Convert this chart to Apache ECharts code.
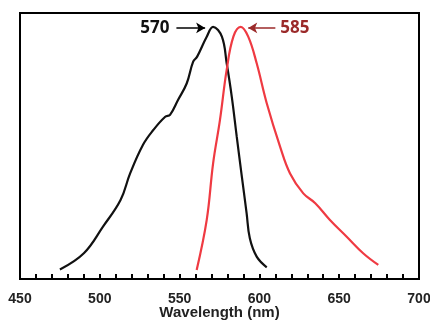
<!DOCTYPE html>
<html>
<head>
<meta charset="utf-8">
<script src="https://cdn.jsdelivr.net/npm/echarts@6/dist/echarts.min.js"></script>
<style>
  html, body { margin: 0; padding: 0; background: #fff; }
  #chart { width: 430px; height: 322px; }
</style>
</head>
<body>
<div id="chart"></div>
<script>
// excitation spectrum (black), [wavelength nm, relative intensity]
const excitation = [
  [475, 3.6], [490, 9.7], [502, 19.7], [513, 29.7], [519, 39.7], [527, 50.4],
  [533.5, 56.0], [541, 61.0], [544, 61.7], [549, 67.3], [554.5, 73.6], [558.5, 81.7],
  [561, 83.6], [567, 91.1], [571, 94.8], [576.5, 91.1], [579.5, 81.1], [582.7, 68.5],
  [585.8, 53.5], [589, 38.5], [592, 24.7], [594, 15.3], [598.3, 8.4], [604.6, 4.4]
];
// emission spectrum (red)
const emission = [
  [560.7, 3.4], [567, 22.2], [571, 43.5], [575.3, 59.8], [579.5, 78.6], [583.7, 91.1],
  [588.3, 94.8], [593, 91.1], [598.3, 81.1], [604.6, 66.1], [613, 49.7], [619.2, 39.7],
  [627.5, 32.2], [635, 28.5], [644.2, 22.2], [654.7, 15.9], [665, 9.7], [674.5, 5.3]
];
const xTicks = [450, 500, 550, 600, 650, 700];
const peakLabels = ['570', '585'];

const chart = echarts.init(document.getElementById('chart'));

chart.setOption({
  animation: false,
  grid: {
    left: 20, right: 11, top: 13, bottom: 43,
    outerBoundsMode: 'none',
    containLabel: false,
    show: true, borderColor: '#000', borderWidth: 2
  },
  xAxis: {
    type: 'value',
    min: xTicks[0],
    max: xTicks[xTicks.length - 1],
    interval: 10,
    name: 'Wavelength (nm)',
    nameLocation: 'middle',
    nameGap: 26,
    nameMoveOverlap: false,
    nameTextStyle: { fontFamily: 'Liberation Sans', fontWeight: 'bold', fontSize: 15, color: '#222' },
    axisLine: { lineStyle: { color: '#000', width: 2 } },
    axisTick: { inside: true, length: 5, lineStyle: { color: '#000', width: 2 } },
    axisLabel: {
      margin: 13,
      fontFamily: 'Liberation Sans', fontWeight: 'bold', fontSize: 14, color: '#222',
      formatter: v => (xTicks.indexOf(v) >= 0 ? String(v) : '')
    },
    splitLine: { show: false }
  },
  yAxis: {
    type: 'value', min: 0, max: 100, show: false
  },
  series: [
    {
      type: 'line',
      data: excitation,
      smooth: 0.4,
      symbol: 'none',
      lineStyle: { color: '#111', width: 2.2 },
      markLine: {
        silent: true,
        symbol: ['none', 'arrow'],
        symbolSize: [8, 9],
        lineStyle: { color: '#000', width: 1.5, type: 'solid' },
        label: {
          show: true, position: 'start', distance: 7,
          formatter: peakLabels[0],
          fontFamily: 'Noto Sans', fontWeight: 'bold', fontSize: 17, color: '#111'
        },
        data: [[{ coord: [548, 94.4] }, { coord: [566, 94.4] }]]
      }
    },
    {
      type: 'line',
      data: emission,
      smooth: 0.4,
      symbol: 'none',
      lineStyle: { color: '#ef3a42', width: 2.2 },
      markLine: {
        silent: true,
        symbol: ['none', 'arrow'],
        symbolSize: [8, 9],
        lineStyle: { color: '#9b2a2a', width: 1.5, type: 'solid' },
        label: {
          show: true, position: 'start', distance: 5,
          formatter: peakLabels[1],
          fontFamily: 'Noto Sans', fontWeight: 'bold', fontSize: 17, color: '#9b2a2a'
        },
        data: [[{ coord: [610, 94.4] }, { coord: [593, 94.4] }]]
      }
    }
  ]
});
</script>
</body>
</html>
